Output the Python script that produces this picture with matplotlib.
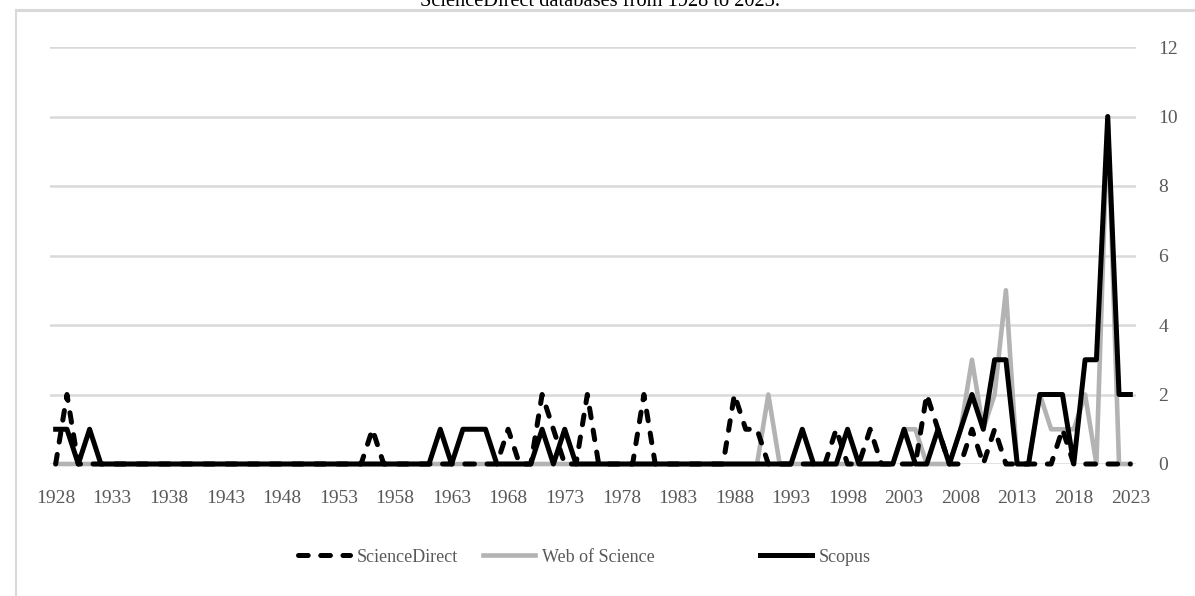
import numpy as np
import matplotlib
matplotlib.use('Agg')
import matplotlib.pyplot as plt
from matplotlib.lines import Line2D

plt.rcParams['font.family'] = ['Liberation Serif', 'DejaVu Serif']
plt.rcParams['lines.scale_dashes'] = False

years = list(range(1928, 2024))

# publications per year, one row per decade
science_direct = [0, 2, 0, 0, 0, 0, 0, 0, 0, 0,   # 1928-1937
                  0, 0, 0, 0, 0, 0, 0, 0, 0, 0,   # 1938-1947
                  0, 0, 0, 0, 0, 0, 0, 0, 1, 0,   # 1948-1957
                  0, 0, 0, 0, 0, 0, 0, 0, 0, 0,   # 1958-1967
                  1, 0, 0, 2, 1, 0, 0, 2, 0, 0,   # 1968-1977
                  0, 0, 2, 0, 0, 0, 0, 0, 0, 0,   # 1978-1987
                  2, 1, 1, 0, 0, 0, 0, 0, 0, 1,   # 1988-1997
                  0, 0, 1, 0, 0, 0, 0, 2, 1, 0,   # 1998-2007
                  0, 1, 0, 1, 0, 0, 0, 0, 0, 1,   # 2008-2017
                  0, 0, 0, 0, 0, 0]               # 2018-2023

web_of_science = [0, 0, 0, 0, 0, 0, 0, 0, 0, 0,
                  0, 0, 0, 0, 0, 0, 0, 0, 0, 0,
                  0, 0, 0, 0, 0, 0, 0, 0, 0, 0,
                  0, 0, 0, 0, 0, 0, 0, 0, 0, 0,
                  0, 0, 0, 0, 0, 0, 0, 0, 0, 0,
                  0, 0, 0, 0, 0, 0, 0, 0, 0, 0,
                  0, 0, 0, 2, 0, 0, 0, 0, 0, 0,
                  0, 0, 0, 0, 0, 1, 1, 0, 0, 0,
                  1, 3, 1, 2, 5, 0, 0, 2, 1, 1,
                  1, 2, 0, 10, 0, 0]

scopus = [1, 1, 0, 1, 0, 0, 0, 0, 0, 0,
          0, 0, 0, 0, 0, 0, 0, 0, 0, 0,
          0, 0, 0, 0, 0, 0, 0, 0, 0, 0,
          0, 0, 0, 0, 1, 0, 1, 1, 1, 0,
          0, 0, 0, 1, 0, 1, 0, 0, 0, 0,
          0, 0, 0, 0, 0, 0, 0, 0, 0, 0,
          0, 0, 0, 0, 0, 0, 1, 0, 0, 0,
          1, 0, 0, 0, 0, 1, 0, 0, 1, 0,
          1, 2, 1, 3, 3, 0, 0, 2, 2, 2,
          0, 3, 3, 10, 2, 2]

label_color = '#595959'
grid_color = '#d9d9d9'
wos_color = '#b3b3b3'

fig = plt.figure(figsize=(11.95, 5.96), dpi=100)
ax = fig.add_axes([50 / 1195, 132 / 596, 1086 / 1195, 417 / 596])

x = np.arange(len(years))
ax.plot(x, web_of_science, color=wos_color, lw=3.3, zorder=2, clip_on=False)
sd_line, = ax.plot(x, science_direct, color='black', lw=3.6, zorder=3,
                   clip_on=False, dash_capstyle='round')
sd_line.set_dashes((7, 9))
ax.plot(x, scopus, color='black', lw=3.6, zorder=4, clip_on=False)

ax.set_xlim(-0.5, len(years) - 0.5)
ax.set_ylim(0, 12)
ax.set_yticks(range(0, 13, 2))
ax.set_xticks(x[::5])
ax.set_xticklabels([str(y) for y in years[::5]])
ax.yaxis.tick_right()
ax.tick_params(axis='both', length=0, labelsize=14, labelcolor=label_color)
ax.tick_params(axis='x', pad=19)
ax.tick_params(axis='y', pad=16)
ax.grid(axis='y', color=grid_color, lw=1.8, zorder=0)
ax.set_axisbelow(True)
for s in ax.spines.values():
    s.set_visible(False)

# legend entries, spaced like the original
entries = [
    (Line2D([], [], color='black', lw=3.6, dashes=(7, 9), dash_capstyle='round'),
     'ScienceDirect', 298),
    (Line2D([], [], color=wos_color, lw=3.3), 'Web of Science', 483),
    (Line2D([], [], color='black', lw=3.6), 'Scopus', 760),
]
for h, lab, px in entries:
    fig.legend([h], [lab], loc='center left',
               bbox_to_anchor=(px / 1195, 1 - 557 / 596),
               frameon=False, fontsize=13, handlelength=2.9,
               handletextpad=0.35, borderaxespad=0, borderpad=0,
               labelcolor=label_color)

# chart frame (partly cropped) and cut-off caption
fig.add_artist(Line2D([16 / 1195, 16 / 1195], [0, 1 - 10 / 596],
                      transform=fig.transFigure, color=grid_color, lw=1.5))
fig.add_artist(Line2D([16 / 1195, 1], [1 - 10 / 596, 1 - 10 / 596],
                      transform=fig.transFigure, color=grid_color, lw=2.2))
fig.text(0.502, 1 - 6 / 596, 'ScienceDirect databases from 1928 to 2023.',
         ha='center', va='baseline', fontsize=14.7, color='black')

fig.savefig('out.png', dpi=100)
